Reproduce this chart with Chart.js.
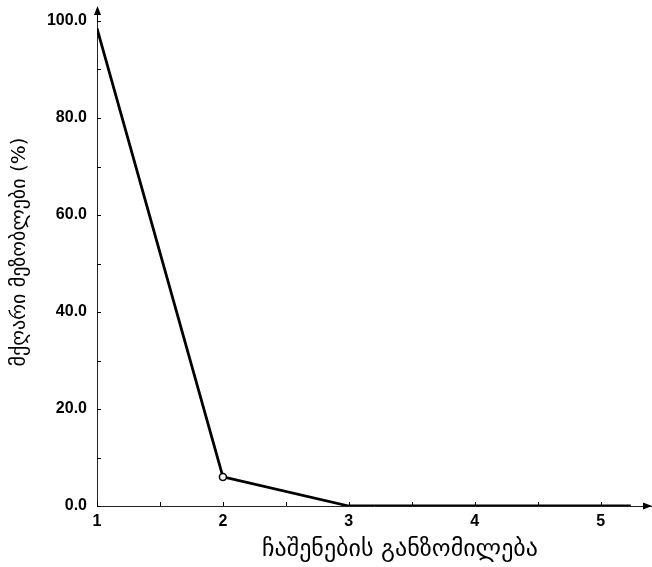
<!DOCTYPE html>
<html>
<head>
<meta charset="utf-8">
<script src="https://cdn.jsdelivr.net/npm/chart.js@4.4.0/dist/chart.umd.min.js"></script>
<style>
  html, body { margin: 0; padding: 0; background: #fff; }
  #wrap { width: 652px; height: 567px; }
</style>
</head>
<body>
<div id="wrap"><canvas id="myChart"></canvas></div>
<script>
// embedding dimension vs false nearest neighbours
var dims = [1, 2, 3, 4, 5, 5.24];
var fnn = [98.5, 6.0, 0, 0, 0, 0];
var xTicks = [1, 2, 3, 4, 5];
var xMinor = [1.5, 2.5, 3.5, 4.5];
var yTicks = [0, 20, 40, 60, 80, 100];
var yMinor = [10, 30, 50, 70, 90];
var xTitle = "ჩაშენების განზომილება";
var yTitle = "მქღარი მეზობლები (%)";

// inward ticks, arrows and axis titles
var axisExtras = {
    id: "axisExtras",
    afterDraw: function(chart) {
        var ctx = chart.ctx;
        var xs = chart.scales.x, ys = chart.scales.y;
        var x0 = xs.getPixelForValue(1);
        var y0 = ys.getPixelForValue(0);
        ctx.save();
        ctx.strokeStyle = "#000";
        ctx.lineWidth = 1;
        ctx.beginPath();
        for (var v of xTicks.concat(xMinor)) {
            var px = Math.round(xs.getPixelForValue(v)) + 0.5;
            ctx.moveTo(px, y0);
            ctx.lineTo(px, y0 - 4);
        }
        for (var v of yTicks.concat(yMinor)) {
            var py = Math.round(ys.getPixelForValue(v)) + 0.5;
            ctx.moveTo(x0, py);
            ctx.lineTo(x0 + 4, py);
        }
        // axis extension up to the arrow
        ctx.moveTo(x0 + 0.5, ys.getPixelForValue(100));
        ctx.lineTo(x0 + 0.5, 10);
        ctx.stroke();
        // arrow heads
        ctx.fillStyle = "#000";
        ctx.beginPath();
        ctx.moveTo(x0 + 0.5, 6);
        ctx.lineTo(x0 - 3, 15);
        ctx.lineTo(x0 + 4, 15);
        ctx.closePath();
        ctx.fill();
        ctx.beginPath();
        ctx.moveTo(652, y0);
        ctx.lineTo(643, y0 - 3.5);
        ctx.lineTo(643, y0 + 3.5);
        ctx.closePath();
        ctx.fill();
        // titles
        ctx.textAlign = "center";
        ctx.textBaseline = "middle";
        ctx.font = "24px 'DejaVu Sans'";
        ctx.fillText(xTitle, 400, 550);
        ctx.translate(20, 252);
        ctx.rotate(-Math.PI / 2);
        ctx.font = "20px 'DejaVu Sans'";
        ctx.fillText(yTitle, 0, 0);
        ctx.restore();
    }
};

var config = {
    type: "line",
    data: {
        datasets: [{
            data: dims.map(function(d, i) { return { x: d, y: fnn[i] }; }),
            borderColor: "#000",
            borderWidth: 2.8,
            pointRadius: [0, 3.5, 0, 0, 0, 0],
            pointBackgroundColor: "#fff",
            pointBorderColor: "#000",
            pointBorderWidth: 1.5,
            tension: 0,
            fill: false
        }]
    },
    options: {
        responsive: true,
        maintainAspectRatio: false,
        animation: false,
        layout: { padding: { top: 21, right: 1, left: 0, bottom: 0 } },
        plugins: { legend: { display: false }, tooltip: { enabled: false } },
        scales: {
            x: {
                type: "linear",
                min: 1,
                max: 5.4,
                afterFit: function(scale) { scale.height = 61; },
                afterBuildTicks: function(scale) {
                    scale.ticks = xTicks.map(function(v) { return { value: v }; });
                },
                grid: { display: false, drawTicks: false },
                border: { display: true, color: "#222", width: 1 },
                ticks: {
                    padding: 6,
                    color: "#000",
                    font: { family: "'Liberation Sans'", size: 16, weight: "bold" },
                    callback: function(v) { return v; }
                }
            },
            y: {
                min: 0,
                max: 100,
                afterFit: function(scale) { scale.width = 97; },
                afterBuildTicks: function(scale) {
                    scale.ticks = yTicks.map(function(v) { return { value: v }; });
                },
                grid: { display: false, drawTicks: false },
                border: { display: true, color: "#222", width: 1 },
                ticks: {
                    padding: 10,
                    color: "#000",
                    font: { family: "'Liberation Sans'", size: 16, weight: "bold" },
                    callback: function(v) { return v.toFixed(1); }
                }
            }
        }
    },
    plugins: [axisExtras]
};

var myChart = new Chart(document.getElementById("myChart"), config);
</script>
</body>
</html>
